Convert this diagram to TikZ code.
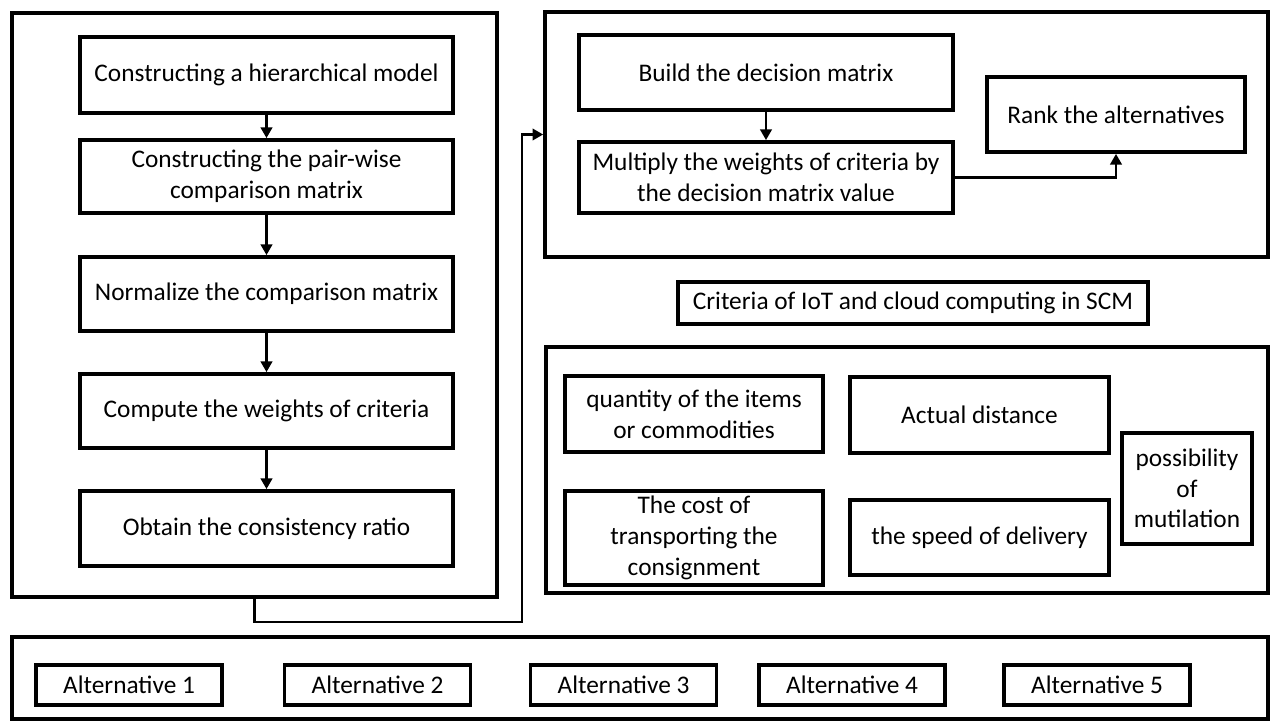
\documentclass[tikz,border=0pt]{standalone}
\usepackage{fontspec}
\setmainfont{Carlito}
\usepackage{tikz}
\usetikzlibrary{positioning,arrows.meta}

\begin{document}
\begin{tikzpicture}[
    x=0.75pt, y=-0.75pt,
    every node/.style={font=\fontsize{19}{23}\selectfont},
    size/.style 2 args={minimum width=#1*0.75pt, minimum height=#2*0.75pt},
    frame/.style={rectangle, draw, line width=2.7pt, inner sep=0pt},
    box/.style={rectangle, draw, line width=2.8pt, inner sep=0pt, align=center},
    flow/.style={-{Triangle[length=8pt,width=8.5pt]}, line width=2.1pt}
]
\useasboundingbox (0,0) rectangle (1282,724);

% AHP steps
\node[frame, size={485}{584}] (ahp) at (254.5,305) {};
\node[box, size={373}{76}] (hierarchy) at (266.5,75) {Constructing a hierarchical model};
\node[box, size={373}{73}] (pairwise) at (266.5,176.5) {Constructing the pair-wise\\comparison matrix};
\node[box, size={373}{74}] (normalize) at (266.5,294) {Normalize the comparison matrix};
\node[box, size={373}{74}] (weights) at (266.5,411) {Compute the weights of criteria};
\node[box, size={373}{75}] (consistency) at (266.5,528.5) {Obtain the consistency ratio};

\draw[flow] (hierarchy) -- (pairwise);
\draw[flow] (pairwise) -- (normalize);
\draw[flow] (normalize) -- (weights);
\draw[flow] (weights) -- (consistency);

% Decision steps
\node[frame, size={723}{245}] (decision) at (906.5,134.5) {};
\node[box, size={374}{75}] (buildmatrix) at (766,72.5) {Build the decision matrix};
\node[box, size={374}{71}] (multiply) at (766,177.5) {Multiply the weights of criteria by\\the decision matrix value};
\node[box, size={258}{75}] (rank) at (1116,114.5) {Rank the alternatives};

\draw[flow] (buildmatrix) -- (multiply);
\draw[flow] (multiply.east) -| (rank.south);

% Link between the two blocks
\coordinate (turn) at (522,622);
\draw[flow] (ahp.south) |- (turn) |- (decision.west);

% Criteria
\node[box, size={470}{42}] (criterialabel) at (913,303) {Criteria of IoT and cloud computing in SCM};
\node[frame, size={722}{246}] (criteria) at (907,470) {};
\node[box, size={258}{76}] (quantity) at (694,414) {quantity of the items\\or commodities};
\node[box, size={259}{76}] (distance) at (979.5,415) {Actual distance};
\node[box, size={130}{111}] (mutilation) at (1187,488.5) {possibility\\of\\mutilation};
\node[box, size={258}{94}] (cost) at (694,538) {The cost of\\transporting the\\consignment};
\node[box, size={259}{75}] (speed) at (979.5,537.5) {the speed of delivery};

% Alternatives
\node[frame, size={1256}{82}] (alternatives) at (640,678) {};
\foreach \i/\xpos in {1/129, 2/377.5, 3/623.5, 4/852, 5/1097}
  \node[box, size={186}{40}] (alt\i) at (\xpos,685) {Alternative \i};

\end{tikzpicture}
\end{document}
